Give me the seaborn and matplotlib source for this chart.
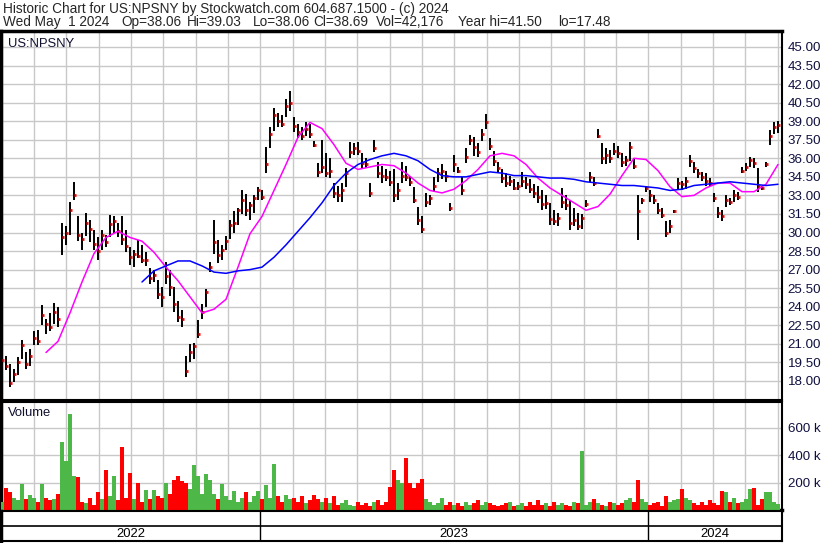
import numpy as np
import pandas as pd
import matplotlib
matplotlib.use("Agg")
import matplotlib.pyplot as plt
import seaborn as sns

# Daily price bars of US:NPSNY, sampled about every 4 px of the reference (May 2022 - May 2024)
hi = [20.3, 20.0, 19.4, 19.0, 19.9, 21.3, 20.3, 20.6, 22.0, 22.1,
      24.1, 23.0, 23.5, 24.3, 24.0, 30.8, 30.5, 32.5, 34.1, 31.3,
      30.0, 31.6, 31.0, 30.2, 29.6, 30.2, 29.8, 31.4, 31.3, 30.8,
      31.3, 30.2, 28.8, 28.6, 29.4, 29.0, 28.4, 27.1, 27.0, 26.2,
      25.6, 27.6, 27.0, 25.6, 24.5, 23.7, 20.0, 21.0, 21.1, 22.9,
      24.2, 25.4, 27.6, 31.0, 29.4, 29.0, 29.7, 31.0, 31.7, 32.0,
      33.4, 33.1, 32.5, 33.0, 33.7, 33.4, 36.9, 38.5, 40.1, 39.7,
      39.5, 40.8, 41.4, 39.3, 38.8, 38.5, 38.9, 38.8, 37.4, 35.6,
      37.5, 36.4, 36.0, 34.0, 33.8, 34.0, 35.2, 37.3, 37.2, 37.3,
      36.4, 36.0, 34.0, 37.5, 35.7, 35.4, 35.1, 35.0, 35.1, 34.0,
      35.7, 35.4, 34.6, 33.7, 32.1, 31.3, 33.2, 33.0, 34.5, 35.2,
      35.5, 35.0, 32.4, 36.3, 35.3, 34.5, 36.8, 37.9, 37.7, 37.2,
      38.4, 39.6, 37.6, 36.6, 35.7, 35.1, 34.8, 34.6, 34.3, 34.1,
      34.9, 34.5, 34.3, 33.9, 33.8, 33.4, 33.0, 32.4, 31.8, 31.6,
      33.6, 33.0, 32.6, 32.0, 31.6, 31.5, 32.6, 34.9, 34.5, 38.4,
      37.2, 36.8, 36.7, 37.2, 37.0, 36.4, 36.2, 37.3, 36.0, 33.0,
      32.8, 33.8, 33.4, 33.0, 32.4, 32.0, 30.9, 31.0, 31.8, 34.4,
      34.2, 34.5, 36.3, 35.7, 35.1, 34.9, 34.8, 34.4, 33.2, 32.1,
      31.8, 33.0, 32.8, 33.4, 33.3, 35.3, 35.6, 36.1, 36.0, 35.2,
      33.8, 35.7, 38.3, 38.9, 39.03]
lo = [19.0, 18.9, 17.5, 17.9, 18.5, 19.8, 19.0, 19.2, 20.9, 20.9,
      22.5, 21.8, 22.0, 22.6, 22.4, 28.2, 29.0, 29.8, 32.6, 29.3,
      28.6, 29.7, 29.2, 28.6, 27.8, 28.6, 28.8, 29.6, 30.0, 29.6,
      29.0, 28.4, 27.4, 27.2, 27.9, 27.5, 27.3, 25.8, 26.0, 24.6,
      24.0, 25.8, 24.9, 23.6, 22.8, 22.4, 18.3, 19.5, 19.8, 21.5,
      23.0, 24.0, 26.8, 28.3, 27.5, 27.8, 28.6, 29.5, 30.0, 30.6,
      31.5, 31.3, 31.0, 31.6, 32.6, 32.6, 34.8, 36.8, 38.2, 38.5,
      38.5, 39.3, 39.8, 38.1, 37.6, 37.5, 37.8, 37.6, 36.9, 34.5,
      34.8, 34.5, 34.4, 32.8, 32.5, 32.5, 33.7, 36.0, 36.3, 36.3,
      35.2, 35.2, 32.9, 36.5, 34.4, 34.0, 34.2, 33.8, 32.5, 32.6,
      34.0, 34.2, 33.8, 32.4, 30.6, 30.0, 32.1, 32.2, 33.3, 34.1,
      34.3, 34.1, 31.7, 34.9, 34.8, 33.0, 35.6, 37.1, 36.2, 36.1,
      37.4, 38.4, 36.7, 35.4, 34.9, 34.0, 33.7, 33.8, 33.4, 33.4,
      33.7, 33.5, 33.2, 32.8, 32.4, 31.8, 31.9, 30.6, 30.6, 30.5,
      32.0, 31.8, 30.2, 30.5, 30.2, 30.3, 32.1, 34.1, 33.8, 37.6,
      35.5, 35.5, 35.6, 36.3, 36.0, 35.3, 35.4, 35.8, 35.1, 29.4,
      32.3, 33.3, 32.5, 32.3, 31.5, 31.2, 29.6, 30.0, 31.6, 33.4,
      33.4, 33.5, 35.3, 34.8, 34.4, 34.2, 33.8, 33.8, 32.5, 31.2,
      30.9, 32.1, 32.2, 32.5, 32.6, 34.8, 35.0, 35.3, 35.2, 33.3,
      33.4, 35.3, 37.1, 38.0, 38.06]
cl = [19.7, 19.2, 17.8, 18.6, 19.5, 20.9, 19.4, 20.0, 21.5, 21.2,
      23.3, 22.6, 22.4, 23.6, 23.0, 29.6, 30.0, 31.8, 33.0, 29.8,
      29.5, 30.8, 30.3, 29.1, 28.5, 29.8, 29.2, 30.7, 30.9, 30.1,
      29.5, 28.9, 28.0, 28.3, 28.1, 27.8, 27.8, 26.3, 26.6, 25.0,
      24.8, 26.5, 25.6, 24.2, 23.2, 23.0, 18.8, 20.3, 20.8, 21.8,
      23.6, 25.2, 27.2, 29.2, 28.2, 28.6, 29.3, 30.6, 30.8, 31.8,
      32.6, 31.8, 32.2, 32.8, 33.4, 32.9, 35.5, 38.0, 39.5, 39.0,
      38.8, 40.2, 40.5, 38.6, 38.1, 37.8, 38.4, 38.0, 37.1, 34.9,
      35.3, 34.8, 35.0, 33.2, 33.0, 33.4, 34.8, 36.5, 36.8, 36.6,
      35.6, 35.5, 33.2, 36.8, 34.8, 34.6, 34.5, 34.1, 33.0, 33.4,
      34.6, 34.5, 34.1, 32.6, 31.0, 30.3, 32.5, 32.8, 33.8, 34.8,
      35.0, 34.6, 32.0, 35.5, 35.0, 33.4, 36.1, 37.5, 36.9, 36.5,
      38.0, 38.9, 37.0, 35.8, 35.2, 34.4, 34.0, 34.2, 33.6, 33.8,
      34.2, 33.9, 33.5, 33.2, 32.9, 32.3, 32.4, 31.1, 30.9, 31.2,
      32.5, 32.2, 30.8, 31.0, 30.5, 31.2, 32.3, 34.5, 34.0, 37.8,
      36.0, 36.3, 36.0, 36.6, 36.4, 35.7, 35.9, 36.9, 35.4, 31.7,
      32.6, 33.6, 33.0, 32.6, 31.8, 31.4, 30.0, 30.5, 31.7, 34.0,
      33.9, 34.2, 35.8, 35.2, 34.8, 34.5, 34.2, 34.0, 32.8, 31.6,
      31.3, 32.6, 32.5, 33.0, 32.9, 35.0, 35.3, 35.9, 35.6, 33.8,
      33.6, 35.5, 37.8, 38.5, 38.69]
# volume in thousands of shares
vol = [60, 160, 130, 90, 70, 190, 80, 110, 90, 60,
       190, 90, 70, 80, 120, 500, 360, 700, 250, 240,
       60, 50, 90, 40, 134, 80, 290, 100, 248, 70,
       463, 90, 271, 80, 196, 60, 144, 80, 144, 100,
       90, 200, 120, 217, 248, 209, 199, 150, 332, 248,
       120, 266, 217, 120, 80, 190, 100, 70, 140, 60,
       90, 130, 60, 100, 140, 80, 185, 90, 337, 100,
       60, 110, 80, 90, 60, 100, 50, 70, 110, 80,
       60, 90, 50, 100, 40, 50, 70, 40, 30, 60,
       40, 50, 30, 60, 70, 40, 60, 165, 290, 217,
       195, 383, 200, 160, 200, 225, 80, 60, 40, 50,
       90, 40, 60, 40, 50, 30, 60, 40, 50, 70,
       40, 60, 50, 40, 30, 40, 50, 60, 30, 40,
       50, 30, 60, 40, 70, 40, 50, 30, 60, 40,
       50, 40, 30, 60, 50, 430, 40, 60, 80, 50,
       40, 30, 60, 50, 40, 50, 70, 90, 60, 221,
       80, 60, 40, 50, 60, 30, 105, 60, 70, 80,
       150, 90, 70, 50, 40, 60, 40, 70, 50, 40,
       140, 135, 60, 90, 50, 60, 80, 150, 160, 40,
       80, 135, 130, 60, 42]

# moving averages read every 3rd bar
ma_step = 3
ma_short_start = 11
ma_short = [20.3, 21.2, 23.5, 26.0, 28.3, 29.6, 30.1, 29.6, 29.3, 28.4,
            27.2, 26.1, 24.8, 23.5, 23.8, 24.6, 27.2, 29.9, 31.3, 33.4,
            35.5, 37.7, 38.9, 38.4, 37.1, 35.6, 35.1, 35.3, 35.5, 35.4,
            34.8, 34.0, 33.4, 33.2, 33.5, 34.2, 35.1, 36.2, 36.4, 36.2,
            35.5, 34.4, 33.6, 33.0, 32.4, 31.8, 32.1, 33.1, 34.6, 36.0,
            35.9, 35.0, 33.7, 32.9, 33.0, 33.6, 34.0, 34.0, 33.3, 33.3,
            33.9, 35.5]
ma_long_start = 35
ma_long = [26.0, 26.9, 27.3, 27.7, 27.7, 27.3, 26.8, 26.7, 26.9, 27.0,
           27.2, 28.0, 29.0, 30.1, 31.2, 32.4, 33.8, 34.8, 35.5, 35.9,
           36.2, 36.4, 36.2, 35.8, 35.1, 34.6, 34.5, 34.5, 34.7, 34.9,
           34.8, 34.6, 34.6, 34.5, 34.4, 34.4, 34.3, 34.1, 34.0, 33.9,
           33.8, 33.8, 33.7, 33.6, 33.4, 33.5, 33.8, 33.9, 34.0, 34.1,
           34.0, 33.9, 33.8, 33.9]

price_ticks = np.arange(18, 45.01, 1.5)
vol_ticks = [200, 400, 600]
vol_labels = ["200 k", "400 k", "600 k"]
years = ["2022", "2023", "2024"]

header1 = "Historic Chart for US:NPSNY by Stockwatch.com 604.687.1500 - (c) 2024"
header2 = ["Wed May  1 2024", "Op=38.06", "Hi=39.03", "Lo=38.06", "Cl=38.69",
           "Vol=42,176", "Year hi=41.50", "lo=17.48"]
header2_x = [3, 121, 187, 253, 313, 376, 458, 558]

sns.set_style("white")
plt.rcParams['font.family'] = ['Liberation Sans', 'DejaVu Sans']

W, H = 830, 543
fig = plt.figure(figsize=(W / 100, H / 100), dpi=100)


def box(x0, y0, x1, y1):
    return [x0 / W, 1 - y1 / H, (x1 - x0) / W, (y1 - y0) / H]


ax = fig.add_axes(box(1, 31, 782, 400))
axv = fig.add_axes(box(1, 402, 782, 510))
axd = fig.add_axes(box(1, 511, 782, 541))

n = len(cl)
idx = np.arange(n)
xlim = (-0.25, n)
grid_c = "#c8c8c8"
lab_c = "#101040"

# month grid lines (about 32.3 px per month, 4 px per bar)
month_pos = [(1.6 + 32.33 * k - 2) / 4 for k in range(25)]
year_pos = [month_pos[8], month_pos[20]]

# ---- price panel
for t in price_ticks:
    ax.axhline(t, color=grid_c, lw=1, zorder=0)
for m in month_pos:
    ax.axvline(m, color=grid_c, lw=1, zorder=0)

ax.vlines(idx, lo, hi, color="black", lw=1.4, zorder=3)
ax.hlines(cl, idx + 0.1, idx + 0.55, color="red", lw=2, zorder=4)

short_idx = ma_short_start + ma_step * np.arange(len(ma_short))
long_idx = ma_long_start + ma_step * np.arange(len(ma_long))
sns.lineplot(x=short_idx, y=ma_short, color="#ff00ff", lw=1.1, ax=ax, zorder=5)
sns.lineplot(x=long_idx, y=ma_long, color="#0000ff", lw=1.1, ax=ax, zorder=5)

ax.set_xlim(*xlim)
ax.set_ylim(16.46, 46.29)
ax.yaxis.tick_right()
ax.set_yticks(price_ticks)
ax.set_yticklabels([f"{t:.2f}" for t in price_ticks], fontsize=9.6, color=lab_c)
ax.tick_params(axis="y", length=0, pad=4)
ax.set_xticks([])
ax.set_xlabel("")
ax.set_ylabel("")
ax.text(0.009, 0.966, "US:NPSNY", transform=ax.transAxes, fontsize=9.4,
        va="center", ha="left", color="#101030")

# ---- volume panel
vdf = pd.DataFrame({"i": idx, "vol": vol,
                    "dir": ["up"] + ["up" if cl[k] >= cl[k - 1] else "down" for k in range(1, n)]})
for t in vol_ticks:
    axv.axhline(t, color=grid_c, lw=1, zorder=0)
for m in month_pos:
    axv.axvline(m, color=grid_c, lw=1, zorder=0)
sns.barplot(data=vdf, x="i", y="vol", hue="dir", native_scale=True, dodge=False,
            palette={"up": "#4db848", "down": "#ff0000"}, saturation=1,
            errorbar=None, legend=False, width=0.85, linewidth=0, ax=axv, zorder=3)
axv.set_xlim(*xlim)
axv.set_ylim(0, 790)
axv.yaxis.tick_right()
axv.set_yticks(vol_ticks)
axv.set_yticklabels(vol_labels, fontsize=9.6, color=lab_c)
axv.tick_params(axis="y", length=0, pad=4)
axv.set_xticks([])
axv.set_xlabel("")
axv.set_ylabel("")
axv.text(0.009, 0.895, "Volume", transform=axv.transAxes, fontsize=9.4,
         va="center", ha="left", color="#101030")

# ---- date strip
axd.set_xlim(*xlim)
axd.set_ylim(0, 1)
axd.axhline(0.5, color="black", lw=1.2)
for yp in year_pos:
    axd.axvline(yp, color="black", lw=1)
bounds = [xlim[0]] + year_pos + [xlim[1]]
for k, yr in enumerate(years):
    axd.text((bounds[k] + bounds[k + 1]) / 2, 0.22, yr, ha="center", va="center",
             fontsize=9.4, color="black")
axd.set_xticks([])
axd.set_yticks([])

for a in (ax, axv, axd):
    for s in a.spines.values():
        s.set_color("black")
        s.set_linewidth(1.5)
    a.spines["left"].set_linewidth(2.5)
ax.spines["top"].set_linewidth(2.5)
axv.spines["bottom"].set_linewidth(2.5)

fig.text(3 / W, 1 - 9 / H, header1, fontsize=9.8, va="center", ha="left")
for txt, xp in zip(header2, header2_x):
    fig.text(xp / W, 1 - 22 / H, txt, fontsize=9.8, va="center", ha="left")

fig.savefig("out.png", dpi=100, facecolor="white")
